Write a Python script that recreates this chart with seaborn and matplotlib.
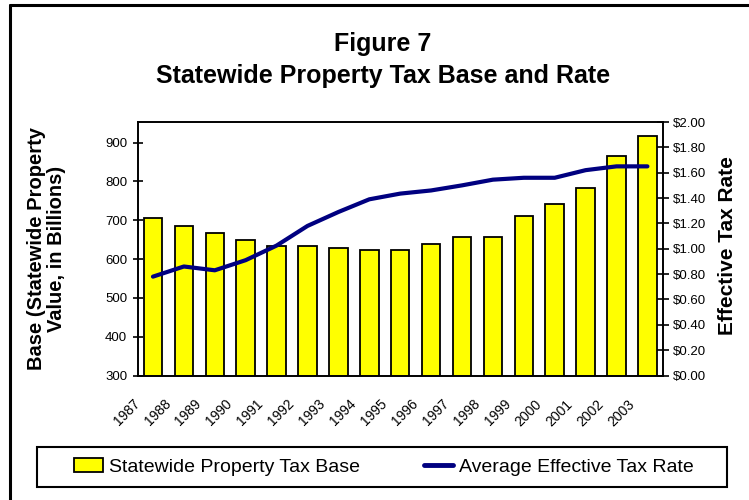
import numpy as np
import pandas as pd
import seaborn as sns
import matplotlib.pyplot as plt
from matplotlib.lines import Line2D
from matplotlib.patches import Patch, Rectangle

# Data
years = [str(y) for y in range(1987, 2004)]
tax_base = [705, 685, 668, 648, 633, 633, 629, 623, 623, 638,
            658, 658, 710, 741, 782, 866, 918]
tax_rate = [0.78, 0.86, 0.83, 0.91, 1.025, 1.18, 1.29, 1.39, 1.435, 1.46,
            1.50, 1.545, 1.56, 1.56, 1.62, 1.65, 1.65]

df = pd.DataFrame({"year": years, "base": tax_base, "rate": tax_rate})
df["pos"] = np.arange(len(df))

sns.set_style("white")
plt.rcParams["font.family"] = ["Liberation Sans", "DejaVu Sans"]
plt.rcParams["text.color"] = "black"
plt.rcParams["xtick.color"] = "black"
plt.rcParams["ytick.color"] = "black"
plt.rcParams["axes.labelcolor"] = "black"

fig = plt.figure(figsize=(7.49, 5), dpi=100)
ax = fig.add_axes([0.1836, 0.249, 0.7014, 0.507])

# Bars - tax base
sns.barplot(data=df, x="year", y="base", color="#ffff00", edgecolor="black",
            linewidth=1.3, width=0.6, saturation=1, ax=ax)
ax.set_ylim(300, 953)
ax.set_yticks(range(300, 901, 100))
ax.set_xlim(-0.5, len(years) - 0.5)
ax.set_xticks(np.arange(len(years) + 1) - 0.5)
ax.set_xticklabels(years + [""], rotation=45, ha="right", va="center",
                   rotation_mode="anchor", fontsize=10)
ax.set_xlabel("")
ax.set_ylabel("")
ax.tick_params(axis="x", direction="out", length=4, width=1.2, pad=15)
ax.tick_params(axis="y", direction="inout", length=7, width=1.2, labelsize=9.5,
               pad=4)

# Line - effective rate
ax2 = ax.twinx()
sns.lineplot(data=df, x="pos", y="rate", color="#000080", linewidth=3,
             ax=ax2)
ax2.set_ylim(0, 2)
ax2.set_yticks(np.arange(0, 2.01, 0.2))
ax2.set_yticklabels([f"${v:.2f}" for v in np.arange(0, 2.01, 0.2)])
ax2.set_xlim(-0.5, len(years) - 0.5)
ax2.set_ylabel("")
ax2.set_xlabel("")
ax2.tick_params(axis="y", direction="inout", length=8, width=1.2,
                labelsize=9.5, pad=3)

for a in (ax, ax2):
    for s in a.spines.values():
        s.set_color("black")
        s.set_linewidth(1.2)
        s.set_visible(True)

# Titles and axis labels
fig.text(0.5115, 0.88, "Figure 7\nStatewide Property Tax Base and Rate",
         ha="center", va="center", fontsize=18, fontweight="bold",
         linespacing=1.4)
fig.text(0.062, 0.502, "Base (Statewide Property\nValue, in Billions)",
         rotation=90, ha="center", va="center", fontsize=14.5,
         fontweight="bold", multialignment="center", linespacing=1.1)
fig.text(0.971, 0.508, "Effective Tax Rate", rotation=90, ha="center",
         va="center", fontsize=15, fontweight="bold")

# Legend (frame drawn separately so its size matches the original box)
handles = [Patch(facecolor="#ffff00", edgecolor="black", linewidth=1.3),
           Line2D([0], [0], color="#000080", linewidth=3.5)]
leg = fig.legend(handles, ["Statewide Property Tax Base",
                           "Average Effective Tax Rate"],
                 loc="center", ncol=2, bbox_to_anchor=(0.512, 0.066),
                 fontsize=14, frameon=False, handlelength=1.5,
                 handletextpad=0.3, columnspacing=3.3)
fig.add_artist(Rectangle((37 / 749, 1 - 487 / 500), 690 / 749, 40 / 500,
                         transform=fig.transFigure, facecolor="none",
                         edgecolor="black", linewidth=1.5))

# Outer frame (left and top edges)
fig.add_artist(Line2D([0.014, 0.014], [0.0, 0.991], color="black",
                      linewidth=2.2, transform=fig.transFigure))
fig.add_artist(Line2D([0.014, 1.0], [0.991, 0.991], color="black",
                      linewidth=2.2, transform=fig.transFigure))

fig.savefig("out.png", dpi=100)
